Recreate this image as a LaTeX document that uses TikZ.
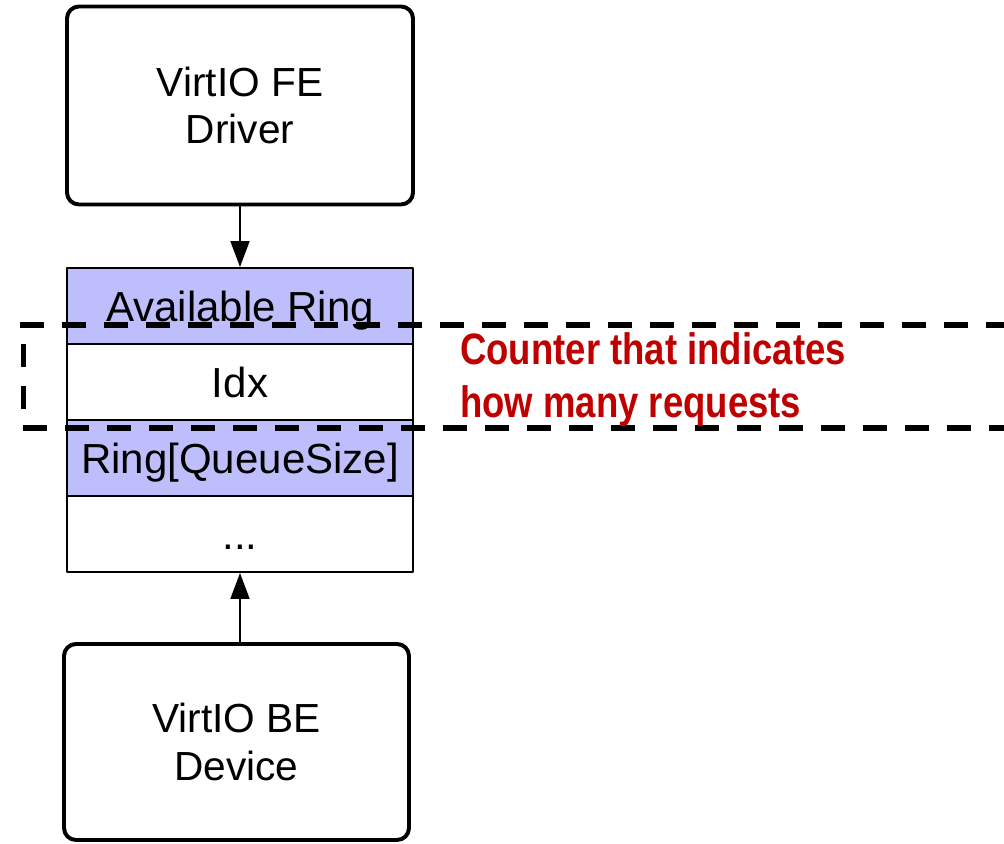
\documentclass[tikz,border=0pt]{standalone}
\usepackage{fontspec}
\setmainfont{Liberation Sans}
\usepackage{graphicx}
\usetikzlibrary{arrows.meta}
\definecolor{ringblue}{RGB}{190,190,252}
\definecolor{notered}{RGB}{192,0,0}

\begin{document}
\begin{tikzpicture}[line cap=round,line join=round,>={Triangle[width=0.475cm,length=0.65cm]},x=1.0cm,y=1.0cm,
	endbox/.style={draw,line width=2.8pt,rounded corners=0.3cm,minimum width=8.65cm,minimum height=4.95cm,align=center,font=\fontsize{28.9}{34.1}\selectfont},
	ringrow/.style={draw,line width=1.4pt,minimum width=8.65cm,minimum height=1.9cm,text height=21.4pt,text depth=0pt,font=\fontsize{29.9}{34}\selectfont},
	hilite/.style={line width=3.6pt,line cap=butt,dash pattern=on 0.6cm off 0.45cm}]
	\clip(0.0,0.0) rectangle (25.1,21.1);
	\node[endbox] (fedrv) at (6.,18.4625) {VirtIO FE\\Driver};
	\node[ringrow,fill=ringblue] (avail) at (6.,13.45) {Available Ring};
	\node[ringrow] (idx) at (6.,11.55) {Idx};
	\node[ringrow,fill=ringblue] (ring) at (6.,9.65) {Ring[QueueSize]};
	\node[ringrow] (dots) at (6.,7.75) {...};
	\node[endbox,minimum width=8.625cm,minimum height=4.9cm] (bedev) at (5.9125,2.55) {VirtIO BE\\Device};
	\draw [->,line width=1.4pt] (fedrv) -- (avail);
	\draw [->,line width=1.4pt] (dots.south |- bedev.north) -- (dots);
	\draw [hilite] (0.5,12.975) -- (25.5,12.975);
	\draw [hilite] (0.575,10.4) -- (25.5,10.4);
	\draw [hilite,dash pattern=on 0.575cm off 0.475cm,dash phase=0.575cm] (0.5875,12.975) -- (0.5875,10.4);
	\node[anchor=base west,inner sep=0pt,text=notered,font=\bfseries\fontsize{31.3}{37}\selectfont] (note) at (11.5,11.975) {\scalebox{0.83}[1]{\begin{tabular}[t]{@{}l@{}}Counter that indicates\\how many requests\end{tabular}}};
\end{tikzpicture}
\end{document}
